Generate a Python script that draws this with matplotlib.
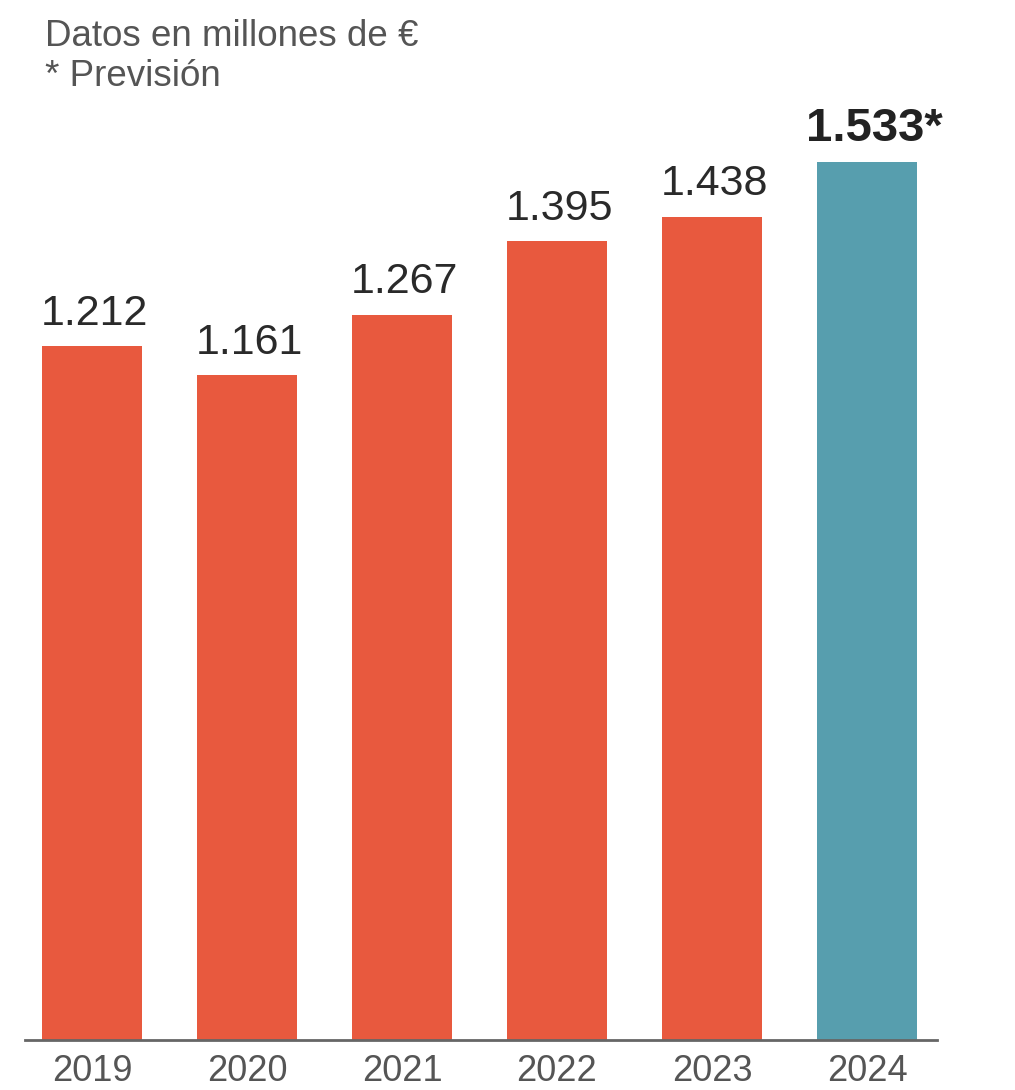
import matplotlib.pyplot as plt

years = ["2019", "2020", "2021", "2022", "2023", "2024"]
values = [1212, 1161, 1267, 1395, 1438, 1533]
labels = ["1.212", "1.161", "1.267", "1.395", "1.438", "1.533*"]
forecast = [False, False, False, False, False, True]

ORANGE = "#e8593e"
TEAL = "#579eae"

plt.rcParams['font.family'] = ['Liberation Sans', 'DejaVu Sans']

fig = plt.figure(figsize=(10.15, 10.9), dpi=100)
ax = fig.add_axes([25 / 1015, 50 / 1090, 912 / 1015, 940 / 1090])

x = list(range(len(years)))
colors = [TEAL if f else ORANGE for f in forecast]
bars = ax.bar(x, values, width=0.645, color=colors, zorder=2)

for xi, v, lab, f in zip(x, values, labels, forecast):
    if f:
        ax.annotate(lab, (xi, v), xytext=(5, 8), textcoords="offset points",
                    ha="center", va="bottom", fontsize=34, fontweight="bold",
                    color="#222222")
    else:
        ax.annotate(lab, (xi, v), xytext=(2, 9), textcoords="offset points",
                    ha="center", va="bottom", fontsize=31, color="#2a2a2a")

ax.set_xlim(-0.432, 5.452)
ax.set_ylim(0, 940 / 0.5726)
ax.set_xticks(x)
ax.set_xticklabels(years, fontsize=26, color="#555555")
ax.tick_params(axis="x", length=0, pad=10)
ax.set_yticks([])
for side in ["top", "right", "left"]:
    ax.spines[side].set_visible(False)
ax.spines["bottom"].set_color("#666666")
ax.spines["bottom"].set_linewidth(2)
ax.spines["bottom"].set_zorder(3)

fig.text(45 / 1015, 1 - 46 / 1090, "Datos en millones de €", fontsize=26.5,
         color="#555555", ha="left", va="baseline")
fig.text(45 / 1015, 1 - 86 / 1090, "* Previsión", fontsize=26.5,
         color="#555555", ha="left", va="baseline")

fig.savefig("out.png", dpi=100)
